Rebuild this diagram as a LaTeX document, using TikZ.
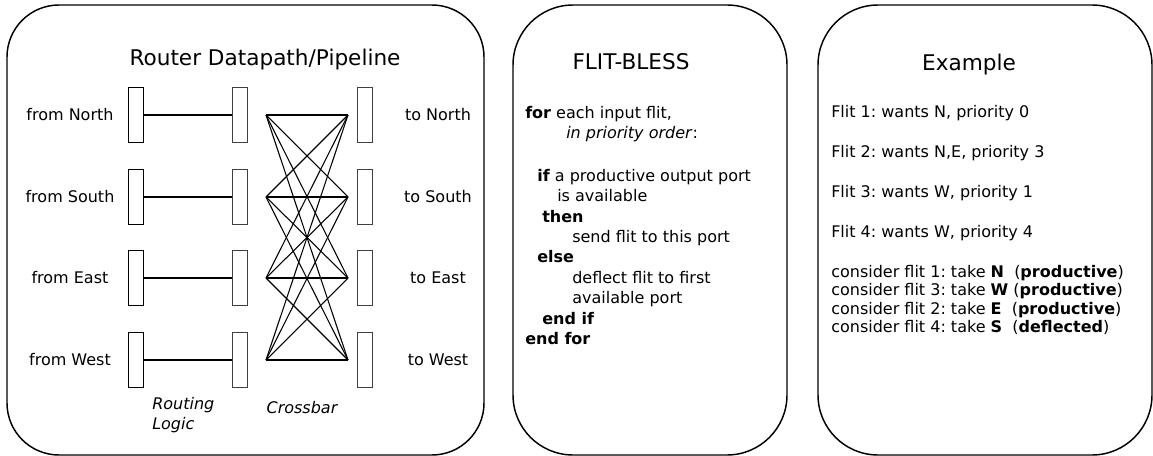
\documentclass[tikz,border=0pt]{standalone}
\usepackage{fontspec}
\setmainfont{DejaVu Sans}
\usetikzlibrary{positioning}
\frenchspacing

\begin{document}
\begin{tikzpicture}[x=0.75pt, y=-0.75pt,
    panel/.style={draw, line width=1.1pt},
    reg/.style={draw, line width=0.8pt, minimum width=11pt, minimum height=41pt, inner sep=0pt},
    soft/.style={draw=black!75, line width=1.1pt},
    wire/.style={line width=0.8pt},
    port/.style={font=\fontsize{12}{15}\selectfont, inner sep=0pt},
    title/.style={font=\fontsize{16.2}{19}\selectfont, inner sep=0pt},
    code/.style={font=\fontsize{12}{15.3}\selectfont, align=left, inner sep=0pt, anchor=north west}
]
    \useasboundingbox (0,0) rectangle (1153,456);

    \draw[panel, rounded corners=39pt] (7,5) rectangle (484,455);
    \draw[panel, rounded corners=45pt] (513,5) rectangle (787,455);
    \draw[panel, rounded corners=45pt] (818,5) rectangle (1152,455);

    \node[title] (router) at (265,60) {Router Datapath/Pipeline};

    \foreach \d/\y [count=\i] in {North/115, South/197, East/278, West/360} {
        \node[reg] (in\i) at (136,\y) {};
        \node[reg, soft] (rl\i) at (240,\y) {};
        \node[reg, soft] (out\i) at (365,\y) {};
        \coordinate (xl\i) at (266,\y);
        \coordinate (xr\i) at (348,\y);
        \node[port] (from\i) at (70,\y) {from \d};
        \node[port] (to\i) at (438,\y) {to \d};
        \draw[wire] (in\i.east) -- (rl\i.west);
    }
    \foreach \i in {1,...,4}
        \foreach \j in {1,...,4}
            \draw[wire] (xl\i) -- (xr\j);

    \node[port, font=\fontsize{12}{15}\selectfont\itshape, align=left, anchor=west] (routing) at (152,415) {Routing\\Logic};
    \node[port, font=\fontsize{12}{15}\selectfont\itshape] (crossbar) at (302,408) {Crossbar};

    \node[title] (bless) at (631,62) {FLIT-BLESS};
    \node[code] (algo) at (525,106) {%
        \textbf{for} each input flit,\\
        \hspace*{30.75pt}\textit{in priority order}:\\[16.5pt]
        \hspace*{9pt}\textbf{if} a productive output port\\
        \hspace*{24pt}is available\\
        \hspace*{12.75pt}\textbf{then}\\
        \hspace*{35.25pt}send flit to this port\\
        \hspace*{9pt}\textbf{else}\\
        \hspace*{35.25pt}deflect flit to first\\
        \hspace*{35.25pt}available port\\
        \hspace*{12.75pt}\textbf{end if}\\
        \textbf{end for}};

    \node[title] (example) at (969,65) {Example};
    \node[code, font=\fontsize{12}{13.75}\selectfont] (trace) at (831,105) {%
        Flit 1: wants N, priority 0\\[16.25pt]
        Flit 2: wants N,E, priority 3\\[16.25pt]
        Flit 3: wants W, priority 1\\[16.25pt]
        Flit 4: wants W, priority 4\\[16.25pt]
        consider flit 1: take \textbf{N}\ \ (\textbf{productive})\\
        consider flit 3: take \textbf{W} (\textbf{productive})\\
        consider flit 2: take \textbf{E}\ \ (\textbf{productive})\\
        consider flit 4: take \textbf{S}\ \ (\textbf{deflected})};
\end{tikzpicture}
\end{document}
